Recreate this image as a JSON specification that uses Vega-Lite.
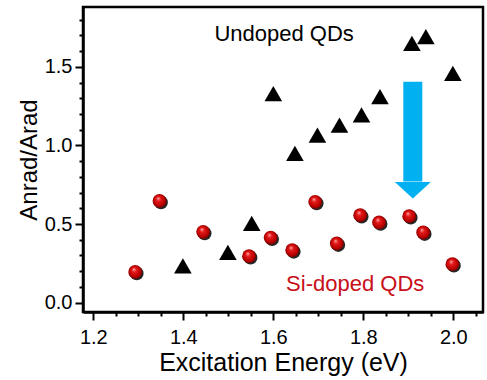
{
  "$schema": "https://vega.github.io/schema/vega-lite/v6.json",
  "autosize": "none",
  "width": 400,
  "height": 305,
  "padding": {"left": 83, "top": 7, "right": 4, "bottom": 68},
  "background": "white",
  "config": {
    "view": {"stroke": "black", "strokeWidth": 2.5},
    "axis": {
      "grid": false,
      "domainColor": "black",
      "domainWidth": 2.5,
      "tickColor": "black",
      "tickWidth": 2,
      "labelFont": "Liberation Sans",
      "labelFontSize": 20,
      "labelColor": "black",
      "titleFont": "Liberation Sans",
      "titleColor": "black",
      "titleFontWeight": "normal",
      "labelOverlap": false,
      "labelFlush": false
    }
  },
  "datasets": {
    "undoped": [
      {"E": 1.399, "ratio": 0.234},
      {"E": 1.499, "ratio": 0.319},
      {"E": 1.552, "ratio": 0.504},
      {"E": 1.600, "ratio": 1.329},
      {"E": 1.648, "ratio": 0.95},
      {"E": 1.698, "ratio": 1.066},
      {"E": 1.747, "ratio": 1.13},
      {"E": 1.796, "ratio": 1.194},
      {"E": 1.837, "ratio": 1.31},
      {"E": 1.908, "ratio": 1.65},
      {"E": 1.939, "ratio": 1.692},
      {"E": 1.999, "ratio": 1.459}
    ],
    "sidoped": [
      {"E": 1.293, "ratio": 0.195},
      {"E": 1.347, "ratio": 0.647},
      {"E": 1.444, "ratio": 0.45},
      {"E": 1.546, "ratio": 0.295},
      {"E": 1.594, "ratio": 0.414},
      {"E": 1.642, "ratio": 0.333},
      {"E": 1.693, "ratio": 0.641},
      {"E": 1.741, "ratio": 0.376},
      {"E": 1.793, "ratio": 0.556},
      {"E": 1.835, "ratio": 0.51},
      {"E": 1.902, "ratio": 0.55},
      {"E": 1.933, "ratio": 0.446},
      {"E": 1.998, "ratio": 0.244}
    ],
    "arrow": [
      {"E": 1.91, "top": 1.405, "bottom": 0.77, "head": 0.715}
    ],
    "labels": [
      {"E": 1.624, "ratio": 1.666, "text": "Undoped QDs", "group": "Undoped"},
      {"E": 1.782, "ratio": 0.072, "text": "Si-doped QDs", "group": "Si-doped"}
    ]
  },
  "encoding": {
    "x": {
      "field": "E",
      "type": "quantitative",
      "scale": {"domain": [1.177, 2.066], "nice": false, "zero": false},
      "axis": {
        "title": "Excitation Energy (eV)",
        "titleFontSize": 25,
        "titlePadding": 3,
        "values": [1.2, 1.25, 1.3, 1.35, 1.4, 1.45, 1.5, 1.55, 1.6, 1.65, 1.7, 1.75, 1.8, 1.85, 1.9, 1.95, 2.0, 2.05],
        "labelExpr": "abs(datum.value*5 - round(datum.value*5)) < 0.001 ? format(datum.value, '.1f') : ''",
        "tickSize": {"condition": {"test": "abs(datum.value*5 - round(datum.value*5)) < 0.001", "value": 8}, "value": 4},
        "labelPadding": 7
      }
    },
    "y": {
      "field": "ratio",
      "type": "quantitative",
      "scale": {"domain": [-0.06, 1.881], "nice": false, "zero": false},
      "axis": {
        "title": "Anrad/Arad",
        "titleFontSize": 24,
        "titlePadding": 3,
        "values": [0.0, 0.1, 0.2, 0.3, 0.4, 0.5, 0.6, 0.7, 0.8, 0.9, 1.0, 1.1, 1.2, 1.3, 1.4, 1.5, 1.6, 1.7, 1.8],
        "labelExpr": "abs(datum.value*2 - round(datum.value*2)) < 0.001 ? format(datum.value, '.1f') : ''",
        "tickSize": {"condition": {"test": "abs(datum.value*2 - round(datum.value*2)) < 0.001", "value": 8}, "value": 4},
        "labelPadding": 3
      }
    }
  },
  "layer": [
    {
      "data": {"name": "sidoped"},
      "mark": {"type": "point", "shape": "circle", "filled": true, "size": 190, "color": "black", "opacity": 0.85, "xOffset": 1.5, "yOffset": 1.5}
    },
    {
      "data": {"name": "sidoped"},
      "mark": {
        "type": "point",
        "shape": "circle",
        "filled": true,
        "size": 190,
        "opacity": 1,
        "fill": {
          "gradient": "radial",
          "x1": 0.4, "y1": 0.3, "r1": 0,
          "x2": 0.5, "y2": 0.5, "r2": 0.55,
          "stops": [
            {"offset": 0, "color": "#ffb4b4"},
            {"offset": 0.3, "color": "#e41a1a"},
            {"offset": 0.75, "color": "#b80000"},
            {"offset": 1, "color": "#600000"}
          ]
        }
      }
    },
    {
      "data": {"name": "undoped"},
      "mark": {"type": "point", "shape": "triangle-up", "filled": true, "size": 310, "color": "black", "opacity": 1}
    },
    {
      "data": {"name": "arrow"},
      "mark": {"type": "rule", "color": "#00b0f0", "strokeWidth": 19, "strokeCap": "butt"},
      "encoding": {
        "y": {"field": "top", "type": "quantitative"},
        "y2": {"field": "bottom"}
      }
    },
    {
      "data": {"name": "arrow"},
      "mark": {"type": "point", "shape": "M-1,-0.46L1,-0.46L0,0.46Z", "filled": true, "size": 1296, "color": "#00b0f0", "opacity": 1, "strokeWidth": 0},
      "encoding": {
        "y": {"field": "head", "type": "quantitative"}
      }
    },
    {
      "data": {"name": "labels"},
      "mark": {"type": "text", "font": "Liberation Sans", "fontSize": 22, "align": "center", "baseline": "alphabetic"},
      "encoding": {
        "text": {"field": "text"},
        "color": {
          "field": "group",
          "type": "nominal",
          "scale": {"domain": ["Undoped", "Si-doped"], "range": ["black", "#c8101a"]},
          "legend": null
        }
      }
    }
  ]
}
